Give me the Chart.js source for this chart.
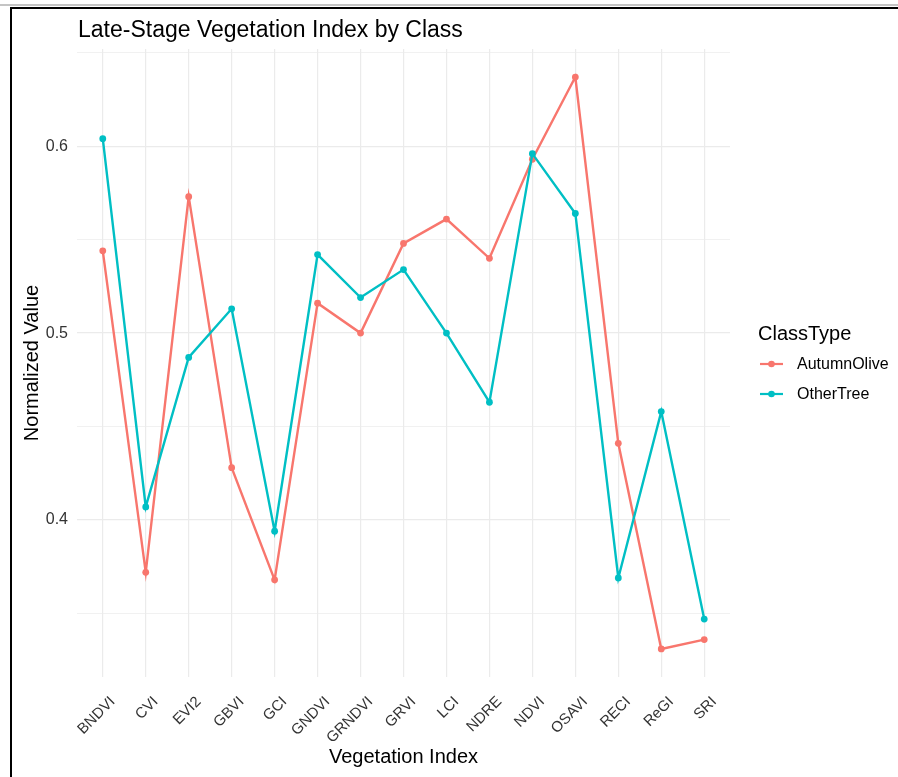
<!DOCTYPE html>
<html>
<head>
<meta charset="utf-8">
<script src="https://cdn.jsdelivr.net/npm/chart.js@4.4.1/dist/chart.umd.min.js"></script>
<style>
  html, body { margin: 0; padding: 0; background: #fff; }
  body { width: 898px; height: 777px; position: relative; overflow: hidden; }
  .topline { position: absolute; left: 0; top: 4px; width: 898px; height: 2px; background: #c4c4c4; }
  .frame { position: absolute; left: 10px; top: 7px; width: 900px; height: 800px;
           border-left: 2px solid #000; border-top: 2px solid #000; }
  #wrap { position: absolute; left: 0; top: 0; width: 898px; height: 777px; }
</style>
</head>
<body>
<div class="topline"></div>
<div class="frame"></div>
<div id="wrap"><canvas id="vegChart" width="898" height="777"></canvas></div>
<script>
const categories = ['BNDVI', 'CVI', 'EVI2', 'GBVI', 'GCI', 'GNDVI', 'GRNDVI', 'GRVI', 'LCI', 'NDRE', 'NDVI', 'OSAVI', 'RECI', 'ReGI', 'SRI'];
const autumnOlive = [0.544, 0.372, 0.573, 0.428, 0.368, 0.516, 0.500, 0.548, 0.561, 0.540, 0.593, 0.637, 0.441, 0.331, 0.336];
const otherTree   = [0.604, 0.407, 0.487, 0.513, 0.394, 0.542, 0.519, 0.534, 0.500, 0.463, 0.596, 0.564, 0.369, 0.458, 0.347];
const yBreaks = [0.35, 0.4, 0.45, 0.5, 0.55, 0.6, 0.65];
const yLabels = ['0.4', '0.5', '0.6'];

const RED = '#F8766D';
const TEAL = '#00BFC4';
const FONT = "'Liberation Sans', Arial, sans-serif";

const toPoints = arr => arr.map((v, i) => ({ x: i, y: v }));
const isMajor = v => yLabels.includes(v.toFixed(1)) && Math.abs(v * 10 - Math.round(v * 10)) < 1e-6;

// タイトルと凡例は ggplot 風に手描き
const decorations = {
    id: 'decorations',
    afterDraw(chart) {
        const ctx = chart.ctx;
        const area = chart.chartArea;
        ctx.save();
        ctx.fillStyle = '#000';
        ctx.textAlign = 'left';
        ctx.textBaseline = 'alphabetic';
        ctx.font = '23px ' + FONT;
        ctx.fillText('Late-Stage Vegetation Index by Class', area.left + 1, 37);

        // legend
        ctx.font = '20px ' + FONT;
        ctx.fillText('ClassType', 758, 340);
        ctx.font = '16px ' + FONT;
        ctx.textBaseline = 'middle';
        chart.data.datasets.forEach((ds, i) => {
            const y = 364 + i * 30;
            ctx.strokeStyle = ds.borderColor;
            ctx.lineWidth = 2.2;
            ctx.beginPath();
            ctx.moveTo(760, y);
            ctx.lineTo(783, y);
            ctx.stroke();
            ctx.fillStyle = ds.borderColor;
            ctx.beginPath();
            ctx.arc(771.5, y, 3.3, 0, Math.PI * 2);
            ctx.fill();
            ctx.fillStyle = '#000';
            ctx.fillText(ds.label, 797, y + 1);
        });
        ctx.restore();
    }
};

const ctx = document.getElementById('vegChart').getContext('2d');
new Chart(ctx, {
    type: 'line',
    data: {
        datasets: [
            {
                label: 'AutumnOlive',
                data: toPoints(autumnOlive),
                borderColor: RED,
                backgroundColor: RED,
                borderWidth: 2.4,
                pointRadius: 3.4,
                pointBorderWidth: 0,
                order: 1
            },
            {
                label: 'OtherTree',
                data: toPoints(otherTree),
                borderColor: TEAL,
                backgroundColor: TEAL,
                borderWidth: 2.4,
                pointRadius: 3.4,
                pointBorderWidth: 0,
                order: 0
            }
        ]
    },
    options: {
        responsive: false,
        animation: false,
        layout: { padding: { left: 20, right: 168, top: 49, bottom: 8 } },
        plugins: {
            legend: { display: false },
            tooltip: { enabled: false }
        },
        scales: {
            x: {
                type: 'linear',
                min: -0.6,
                max: categories.length - 1 + 0.6,
                afterBuildTicks: scale => {
                    scale.ticks = categories.map((_, i) => ({ value: i }));
                },
                afterFit: scale => { scale.height = 92; },
                border: { display: false },
                grid: { color: '#ebebeb', lineWidth: 1.2, drawTicks: false },
                ticks: {
                    autoSkip: false,
                    maxRotation: 45,
                    minRotation: 45,
                    padding: 16,
                    labelOffset: 10,
                    color: '#333',
                    font: { family: FONT, size: 15 },
                    callback: v => categories[v]
                },
                title: {
                    display: true,
                    text: 'Vegetation Index',
                    color: '#000',
                    font: { family: FONT, size: 20 },
                    padding: 0
                }
            },
            y: {
                min: 0.316,
                max: 0.652,
                afterBuildTicks: scale => {
                    scale.ticks = yBreaks.map(v => ({ value: v }));
                },
                afterFit: scale => { scale.width = 57; },
                border: { display: false },
                grid: {
                    color: '#ebebeb',
                    drawTicks: false,
                    lineWidth: c => isMajor(c.tick.value) ? 1.2 : 0.7
                },
                ticks: {
                    padding: 9,
                    color: '#333',
                    font: { family: FONT, size: 16 },
                    callback: v => isMajor(v) ? v.toFixed(1) : ''
                },
                title: {
                    display: true,
                    text: 'Normalized Value',
                    color: '#000',
                    font: { family: FONT, size: 20 },
                    padding: 0
                }
            }
        }
    },
    plugins: [decorations]
});
</script>
</body>
</html>
